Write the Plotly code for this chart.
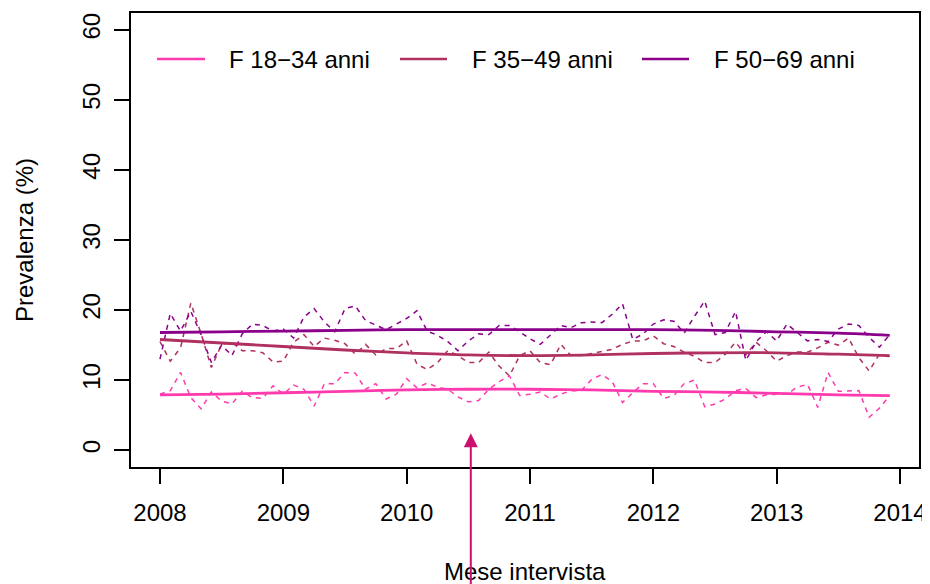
import plotly.graph_objects as go

# Monthly time axis: Jan 2008 .. Dec 2013 (72 months)
years = [2008, 2009, 2010, 2011, 2012, 2013]
months = [y + m / 12 for y in years for m in range(12)]

# Monthly prevalence (%)
f18_34 = [8.0, 8.5, 11.1, 7.5, 5.9, 8.3, 7.0, 6.6, 8.4, 7.5, 7.4, 9.2,
          8.0, 9.3, 8.7, 6.3, 9.5, 9.5, 11.1, 11.0, 8.7, 9.5, 7.3, 8.0,
          10.2, 8.9, 9.6, 9.0, 8.7, 7.6, 6.9, 7.1, 8.7, 9.8, 10.6, 7.8,
          8.0, 8.3, 7.3, 8.0, 8.5, 8.5, 10.1, 10.8, 9.8, 6.8, 8.2, 9.5,
          9.5, 7.4, 7.8, 9.5, 10.0, 6.2, 6.6, 7.3, 8.5, 8.8, 7.5, 7.9,
          8.0, 8.0, 9.0, 9.4, 6.1, 11.1, 8.4, 8.4, 8.5, 4.7, 6.0, 7.8]
f35_49 = [15.5, 12.7, 14.6, 21.0, 16.6, 11.8, 15.1, 15.4, 14.2, 14.2, 13.9, 12.6,
          12.7, 15.4, 16.5, 14.8, 16.0, 15.7, 15.2, 13.7, 15.1, 13.6, 14.5, 14.5,
          15.6, 12.3, 11.5, 12.5, 14.2, 13.5, 12.5, 12.5, 14.0, 12.0, 10.6, 13.5,
          14.2, 12.5, 12.2, 15.1, 13.5, 13.5, 13.8, 14.1, 14.4, 15.1, 15.6, 15.6,
          16.3, 15.2, 14.8, 14.0, 13.4, 12.5, 12.5, 13.7, 15.4, 13.6, 15.4, 14.2,
          12.7, 13.5, 14.0, 14.0, 14.6, 15.4, 15.0, 16.0, 13.2, 11.3, 13.7, 13.3]
f50_69 = [13.0, 19.5, 17.0, 19.8, 16.5, 12.5, 15.0, 13.5, 16.6, 18.0, 17.8, 17.0,
          17.3, 16.0, 19.0, 20.2, 18.3, 16.9, 20.2, 20.6, 18.5, 17.8, 17.2, 18.0,
          18.8, 19.9, 17.0, 16.4, 15.5, 14.2, 15.6, 16.6, 16.5, 17.8, 17.8, 16.9,
          15.9, 15.1, 16.5, 17.8, 17.5, 18.2, 18.3, 18.2, 19.4, 20.9, 15.8, 16.6,
          18.0, 18.6, 18.4, 16.7, 19.1, 21.3, 16.5, 16.8, 19.8, 12.8, 15.5, 16.9,
          15.6, 18.0, 16.8, 15.6, 15.8, 15.5, 17.3, 18.0, 17.8, 16.1, 14.7, 16.5]

# Smoothed trend values read every 6 months (plus last month)
trend_x = [2008.0, 2008.5, 2009.0, 2009.5, 2010.0, 2010.5, 2011.0,
           2011.5, 2012.0, 2012.5, 2013.0, 2013.5, 2013 + 11 / 12]
trend_18_34 = [7.9, 8.0, 8.2, 8.4, 8.6, 8.7, 8.7, 8.6, 8.4, 8.3, 8.1, 7.9, 7.8]
trend_35_49 = [15.8, 15.3, 14.8, 14.3, 13.9, 13.6, 13.5, 13.6, 13.8, 13.9, 13.9, 13.7, 13.5]
trend_50_69 = [16.8, 16.9, 17.0, 17.1, 17.2, 17.2, 17.2, 17.2, 17.2, 17.1, 16.9, 16.7, 16.4]

labels = ["F 18\u221234 anni", "F 35\u221249 anni", "F 50\u221269 anni"]
colors = ["#FF3AAE", "#B03060", "#8B008B"]
series = [f18_34, f35_49, f50_69]
trends = [trend_18_34, trend_35_49, trend_50_69]

x_ticks = [2008, 2009, 2010, 2011, 2012, 2013, 2014]
y_ticks = [0, 10, 20, 30, 40, 50, 60]
event_x = 2010.52

fig = go.Figure()
for lab, col, s in zip(labels, colors, series):
    fig.add_trace(go.Scatter(x=months, y=s, mode="lines", showlegend=False,
                             line=dict(color=col, width=1.5, dash="5px,5px")))
for lab, col, t in zip(labels, colors, trends):
    fig.add_trace(go.Scatter(x=trend_x, y=t, mode="lines", name=lab, showlegend=False,
                             line=dict(color=col, width=2.8, shape="spline")))

font = "Liberation Sans, Arial, sans-serif"
FS = 24
# page is offset by the 8px body margin; layout is expressed in figure pixels
L, R, T, B, W, H = 123, 19, 5, 125, 930, 584
PW = W - L - R
PH = H - T - B


def px_x(fx):
    return (fx - L) / PW


def px_y(fy):
    return (H - B - fy) / PH


fig.update_layout(
    width=W, height=H,
    margin=dict(l=L, r=R, t=T, b=B, autoexpand=False),
    paper_bgcolor="white", plot_bgcolor="white",
    font=dict(family=font, size=FS, color="black"),
    showlegend=False,
    xaxis=dict(range=[2007.765, 2014.154], tickvals=x_ticks,
               ticktext=[str(v) for v in x_ticks], automargin=False,
               showgrid=False, zeroline=False, showline=True, mirror=True,
               linecolor="black", linewidth=1.5, ticks="outside", ticklen=15,
               tickwidth=1.5, tickcolor="black", ticklabelstandoff=8,
               tickfont=dict(size=FS)),
    yaxis=dict(range=[-2.4, 62.4], tickvals=y_ticks, automargin=False,
               showgrid=False, zeroline=False, showline=True, mirror=True,
               linecolor="black", linewidth=1.5, ticks="outside", ticklen=15,
               tickwidth=1.5, tickcolor="black", tickangle=-90,
               ticklabelstandoff=5, tickfont=dict(size=FS)),
)

# legend drawn as keys + labels inside the plot
leg_line_x = [(149, 197), (392, 439), (634, 681)]
leg_text_x = [219, 462, 704]
leg_y = 51
for (x0, x1), tx, lab, col in zip(leg_line_x, leg_text_x, labels, colors):
    fig.add_shape(type="line", xref="paper", yref="paper",
                  x0=px_x(x0), x1=px_x(x1), y0=px_y(leg_y), y1=px_y(leg_y),
                  line=dict(color=col, width=2.6))
    fig.add_annotation(xref="paper", yref="paper", x=px_x(tx), y=px_y(leg_y),
                       text=lab, showarrow=False, xanchor="left", yanchor="middle",
                       font=dict(size=FS))

fig.add_annotation(xref="paper", yref="paper", x=px_x(16), y=0.5,
                   text="Prevalenza (%)", showarrow=False, textangle=-90,
                   font=dict(size=FS), xanchor="center", yanchor="middle")
fig.add_annotation(xref="paper", yref="paper", x=0.5, y=px_y(563),
                   text="Mese intervista", showarrow=False,
                   font=dict(size=FS), xanchor="center", yanchor="middle")
fig.add_annotation(x=event_x, y=2.4, xref="x", yref="y", text="",
                   showarrow=True, arrowhead=2, arrowsize=1.4, arrowwidth=2,
                   arrowcolor="#CC1070", ax=0, ay=170)

fig.write_html("out.html")
